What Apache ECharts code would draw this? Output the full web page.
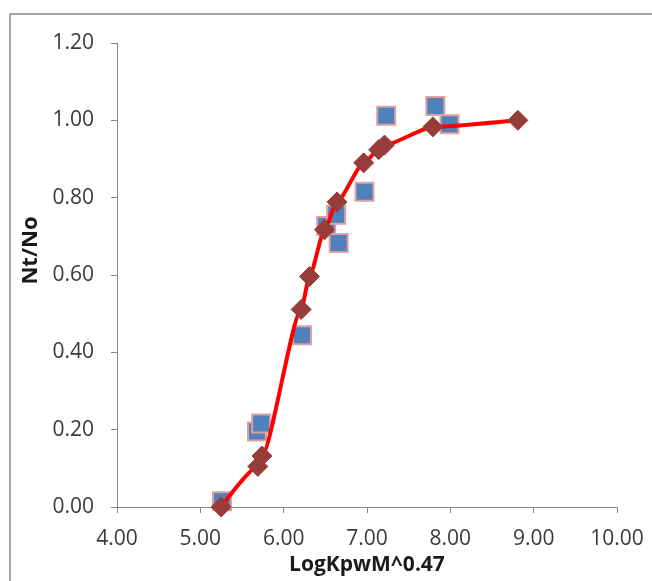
<!DOCTYPE html>
<html><head><meta charset="utf-8">
<script src="https://cdn.jsdelivr.net/npm/echarts@6/dist/echarts.min.js"></script>
<style>html,body{margin:0;padding:0;background:#fff;}#c{width:652px;height:581px;}</style>
</head><body><div id="c"></div>
<script>
const xTicks = [4, 5, 6, 7, 8, 9, 10];
const yTicks = [0, 0.2, 0.4, 0.6, 0.8, 1.0, 1.2];
const fitX = [5.25, 5.69, 5.74, 6.21, 6.31, 6.49, 6.64, 6.96, 7.14, 7.21, 7.79, 8.81];
const fitY = [0.00, 0.105, 0.132, 0.511, 0.596, 0.717, 0.789, 0.890, 0.924, 0.936, 0.983, 1.000];
const obsX = [5.26, 5.68, 5.73, 6.22, 6.51, 6.63, 6.66, 6.97, 7.23, 7.82, 7.99];
const obsY = [0.015, 0.195, 0.216, 0.444, 0.727, 0.756, 0.683, 0.815, 1.012, 1.037, 0.990];

const chart = echarts.init(document.getElementById('c'));
const font = "'Open Sans', 'Liberation Sans', sans-serif";
chart.setOption({
  animation: false,
  backgroundColor: '#fff',
  graphic: [{type: 'rect', shape: {x: 10, y: 14, width: 700, height: 700}, style: {fill: 'none', stroke: '#8a8a8a', lineWidth: 1.5}}],
  grid: {left: 117, right: 35, top: 43, bottom: 74},
  xAxis: {
    type: 'value', min: xTicks[0], max: xTicks[xTicks.length - 1], interval: 1,
    name: 'LogKpwM^0.47', nameLocation: 'middle', nameGap: 47,
    nameTextStyle: {fontFamily: font, fontWeight: 'bold', fontSize: 21, color: '#1a1a1a'},
    axisLine: {lineStyle: {color: '#888', width: 1}},
    axisTick: {show: true, length: 6, lineStyle: {color: '#888'}},
    splitLine: {show: false},
    axisLabel: {fontFamily: font, fontSize: 21, color: '#3a3a3a', margin: 22, formatter: v => v.toFixed(2)}
  },
  yAxis: {
    type: 'value', min: yTicks[0], max: yTicks[yTicks.length - 1], interval: 0.2,
    name: 'Nt/No', nameLocation: 'middle', nameGap: 69, nameRotate: 90,
    nameTextStyle: {fontFamily: font, fontWeight: 'bold', fontSize: 22, color: '#1a1a1a', padding: [0, 0, 0, 49]},
    axisLine: {show: true, lineStyle: {color: '#888', width: 1}},
    axisTick: {show: true, length: 6, lineStyle: {color: '#888'}},
    splitLine: {show: false},
    axisLabel: {fontFamily: font, fontSize: 21, color: '#3a3a3a', margin: 23, formatter: v => v.toFixed(2)}
  },
  series: [
    {
      type: 'line', data: fitX.map((x, i) => [x, fitY[i]]), smooth: 0.2, smoothMonotone: 'x',
      lineStyle: {color: '#ff0000', width: 4},
      symbol: 'diamond', symbolSize: 20,
      itemStyle: {color: '#983c3a', borderColor: '#983c3a', borderWidth: 1, opacity: 1}
    },
    {
      type: 'scatter', data: obsX.map((x, i) => [x, obsY[i]]),
      symbol: 'rect', symbolSize: 18,
      itemStyle: {color: '#4f81bd', borderColor: '#e0a0a0', borderWidth: 2, opacity: 1}
    }
  ]
});
</script></body></html>
